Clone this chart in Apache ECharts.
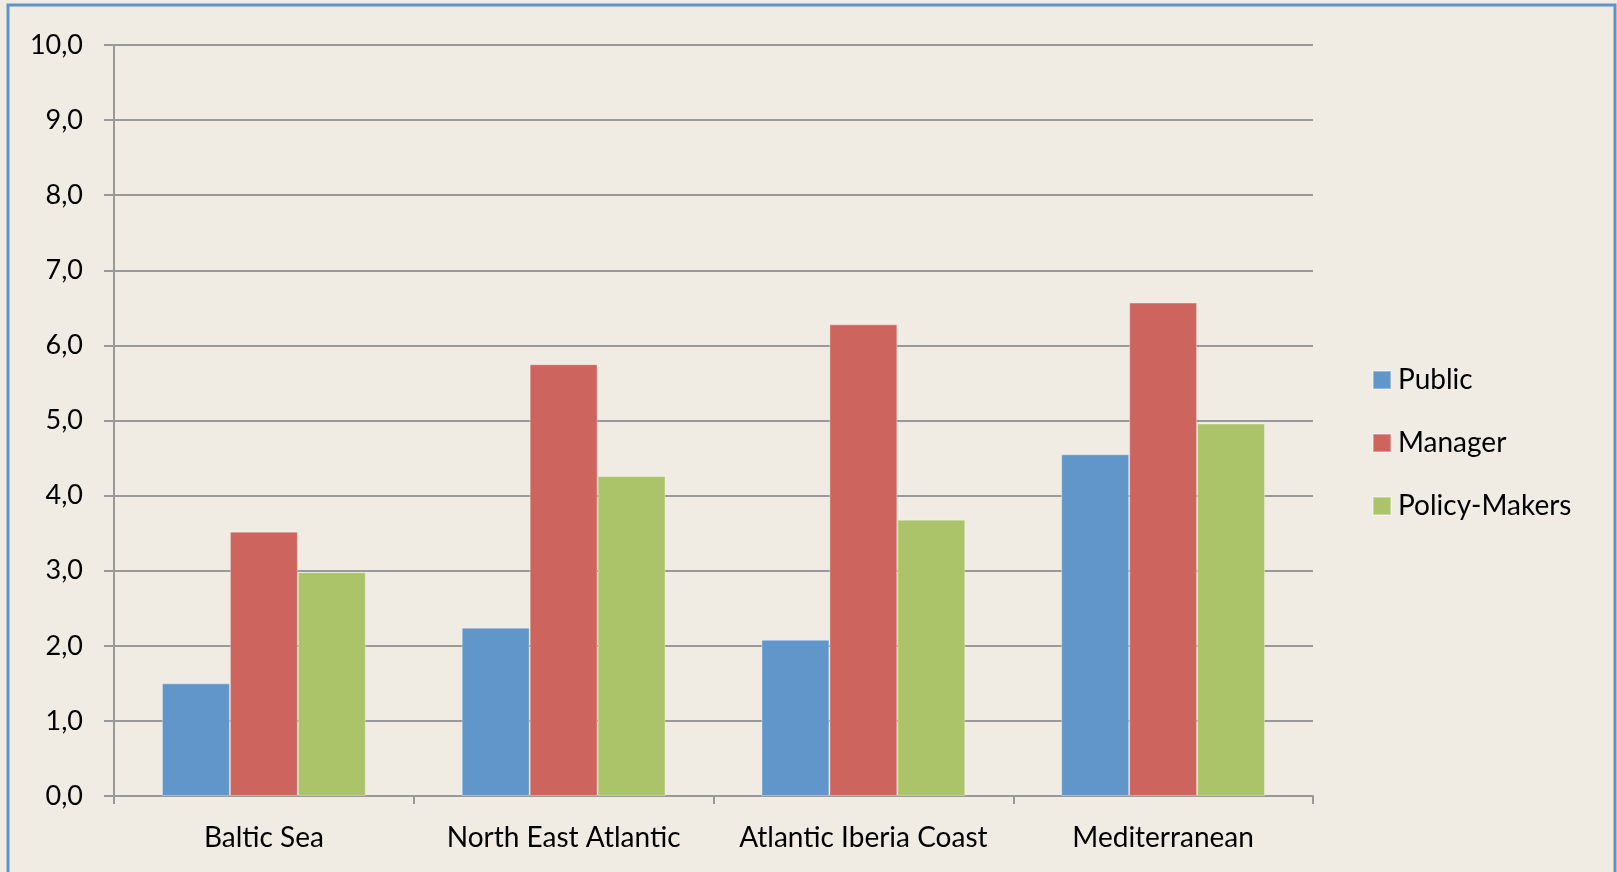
<!DOCTYPE html>
<html>
<head>
<meta charset="utf-8">
<script src="https://cdn.jsdelivr.net/npm/echarts@6/dist/echarts.min.js"></script>
<style>
  html, body { margin: 0; padding: 0; background: #f0ece4; }
  #chart { width: 1617px; height: 872px; }
</style>
</head>
<body>
<div id="chart"></div>
<script>
// Regions along the x axis
const categories = ['Baltic Sea', 'North East Atlantic', 'Atlantic Iberia Coast', 'Mediterranean'];

// Scores for each stakeholder group
const publicScores = [1.50, 2.24, 2.08, 4.55];
const managerScores = [3.52, 5.75, 6.28, 6.57];
const policyMakerScores = [2.98, 4.26, 3.68, 4.96];

const seriesNames = ['Public', 'Manager', 'Policy-Makers'];
const seriesColors = ['#6096c9', '#cd655e', '#abc46a'];

const FONT = 'Lato, "Open Sans", sans-serif';
const TEXT_COLOR = '#000';

const chart = echarts.init(document.getElementById('chart'), null, { renderer: 'canvas' });

const makeSeries = (name, data, color) => ({
  name: name,
  type: 'bar',
  data: data,
  barGap: '0%',
  barCategoryGap: '32%',
  itemStyle: { color: color, borderColor: 'rgba(255,255,255,0.35)', borderWidth: 1 },
  emphasis: { disabled: true }
});

chart.setOption({
  backgroundColor: '#f0ece4',
  animation: false,
  grid: { left: 114, right: 304, top: 45, bottom: 76, containLabel: false },
  legend: {
    orient: 'vertical',
    left: 1372,
    top: 366,
    padding: 0,
    itemWidth: 18,
    itemHeight: 18,
    itemGap: 35,
    icon: 'rect',
    textStyle: { fontFamily: FONT, fontSize: 28, color: TEXT_COLOR, padding: [0, 0, 0, 2], lineHeight: 28 },
    data: seriesNames
  },
  xAxis: {
    type: 'category',
    data: categories,
    axisLine: { lineStyle: { color: '#999', width: 2 } },
    axisTick: { show: true, interval: 0, length: 8, lineStyle: { color: '#999', width: 2 } },
    axisLabel: { interval: 0, hideOverlap: false, fontFamily: FONT, fontSize: 28, color: TEXT_COLOR, margin: 28 }
  },
  yAxis: {
    type: 'value',
    min: 0,
    max: 10,
    interval: 1,
    axisLine: { show: true, lineStyle: { color: '#999', width: 2 } },
    axisTick: { show: true, length: 10, lineStyle: { color: '#999', width: 2 } },
    splitLine: { show: true, lineStyle: { color: '#999', width: 2 } },
    axisLabel: {
      fontFamily: FONT, fontSize: 27, color: TEXT_COLOR, margin: 31,
      formatter: v => v.toFixed(1).replace('.', ',')
    }
  },
  series: [
    makeSeries(seriesNames[0], publicScores, seriesColors[0]),
    makeSeries(seriesNames[1], managerScores, seriesColors[1]),
    makeSeries(seriesNames[2], policyMakerScores, seriesColors[2])
  ],
  graphic: [{
    type: 'rect',
    silent: true,
    shape: { x: 8, y: 5, width: 1607, height: 900 },
    style: { fill: 'none', stroke: '#5f93cb', lineWidth: 3 }
  }]
});
</script>
</body>
</html>
